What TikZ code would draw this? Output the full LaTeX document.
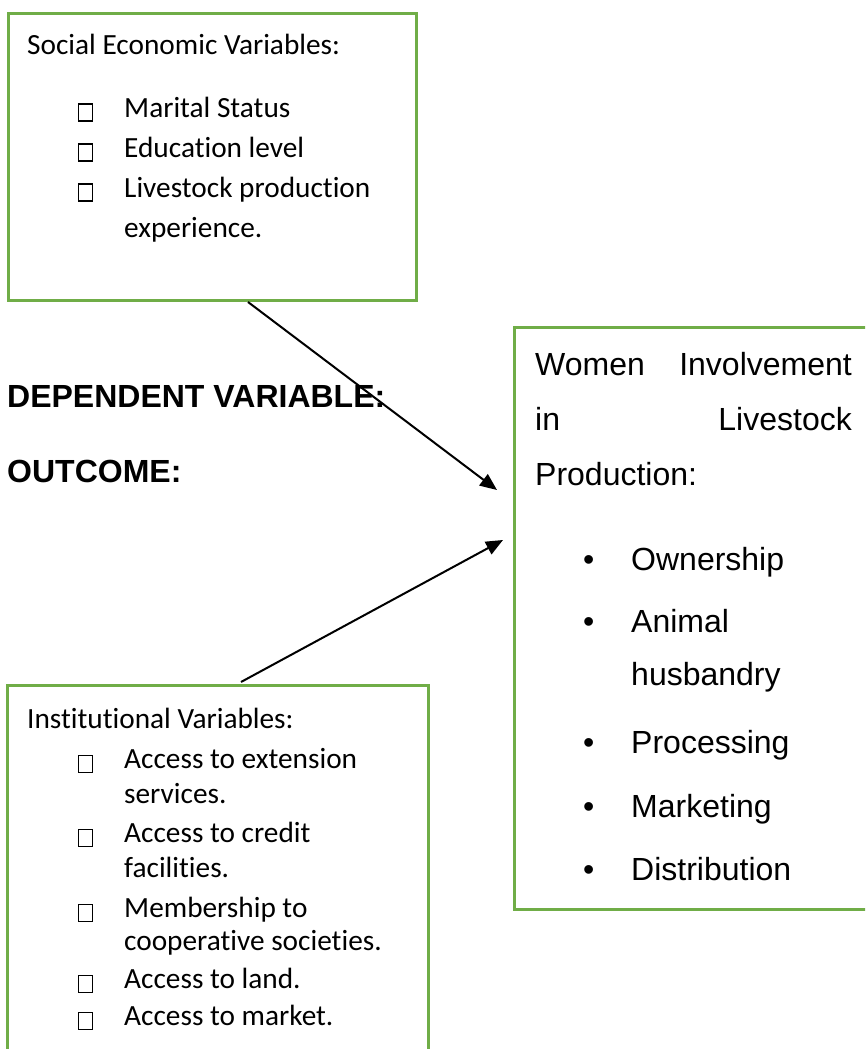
\documentclass[tikz,border=0pt]{standalone}
\usepackage{fontspec}
\setmainfont{Carlito}[Ligatures=NoCommon]
\newfontfamily\arialfont{Liberation Sans}
\usetikzlibrary{arrows.meta}
\definecolor{boxgreen}{HTML}{70AD47}
\tikzset{
  framebox/.style={draw=boxgreen, line width=2.6pt, rectangle, inner sep=0pt, anchor=north west},
  cal/.style={anchor=base west, inner sep=0pt, font=\fontsize{29.3}{35}\selectfont},
  ari/.style={anchor=base west, inner sep=0pt, font=\arialfont\fontsize{32}{38}\selectfont},
  arib/.style={anchor=base west, inner sep=0pt, font=\arialfont\bfseries\fontsize{32}{38}\selectfont},
  tofu/.style={draw=black, line width=1.3pt, rectangle, inner sep=0pt, minimum width=13.5pt, minimum height=17pt, anchor=south west},
  link/.style={draw=black, line width=2pt, -{Triangle[length=17pt,width=14pt]}}
}
\begin{document}
\begin{tikzpicture}[x=1pt,y=-1pt]
\useasboundingbox (0,0) rectangle (865,1049);
\clip (0,0) rectangle (865,1049);
\fill[white] (0,0) rectangle (865,1049);
% boxes
\node[framebox, minimum width=408pt, minimum height=287pt] (seBox) at (7,12) {};
\node[framebox, minimum width=370pt, minimum height=582pt] (outBox) at (513,326) {};
\node[framebox, minimum width=421pt, minimum height=400pt] (instBox) at (6,684) {};
% social economic variables
\node[cal] (seTitle) at (27,55) {Social Economic Variables:};
\node[tofu] (seB1) at (78,121.5) {};
\node[cal] (seT1) at (124,117) {Marital Status};
\node[tofu] (seB2) at (78,161.5) {};
\node[cal] (seT2) at (124,157) {Education level};
\node[tofu] (seB3) at (78,201.5) {};
\node[cal] (seT3) at (124,197) {Livestock production};
\node[cal] (seT3b) at (124,237) {experience.};
% labels
\node[arib] (depLabel) at (7,407) {DEPENDENT VARIABLE:};
\node[arib] (outLabel) at (7,482) {OUTCOME:};
% outcome box text
\node[ari] (oW1) at (535,375) {Women};
\node[ari, anchor=base east] (oW2) at (852,375) {Involvement};
\node[ari] (oW3) at (535,430) {in};
\node[ari, anchor=base east] (oW4) at (852,430) {Livestock};
\node[ari] (oW5) at (535,485) {Production:};
\node[ari] (oB1) at (583,570) {\textbullet};
\node[ari] (oI1) at (631,570) {Ownership};
\node[ari] (oB2) at (583,632) {\textbullet};
\node[ari] (oI2) at (631,632) {Animal};
\node[ari] (oI2b) at (631,685) {husbandry};
\node[ari] (oB3) at (583,753) {\textbullet};
\node[ari] (oI3) at (631,753) {Processing};
\node[ari] (oB4) at (583,817) {\textbullet};
\node[ari] (oI4) at (631,817) {Marketing};
\node[ari] (oB5) at (583,880) {\textbullet};
\node[ari] (oI5) at (631,880) {Distribution};
% institutional variables
\node[cal] (inTitle) at (27,728) {Institutional Variables:};
\node[tofu] (inB1) at (78,773) {};
\node[cal] (inT1) at (124,768) {Access to extension};
\node[cal] (inT1b) at (124,803) {services.};
\node[tofu] (inB2) at (78,847) {};
\node[cal] (inT2) at (124,842) {Access to credit};
\node[cal] (inT2b) at (124,877) {facilities.};
\node[tofu] (inB3) at (78,922) {};
\node[cal] (inT3) at (124,917) {Membership to};
\node[cal] (inT3b) at (124,950) {cooperative societies.};
\node[tofu] (inB4) at (78,993) {};
\node[cal] (inT4) at (124,988) {Access to land.};
\node[tofu] (inB5) at (78,1030) {};
\node[cal] (inT5) at (124,1025) {Access to market.};
% arrows
\coordinate (a1s) at (248,302);
\coordinate (a1e) at (497,490);
\coordinate (a2s) at (241,682);
\coordinate (a2e) at (503,540);
\draw[link] (a1s) -- (a1e);
\draw[link] (a2s) -- (a2e);
\end{tikzpicture}
\end{document}
